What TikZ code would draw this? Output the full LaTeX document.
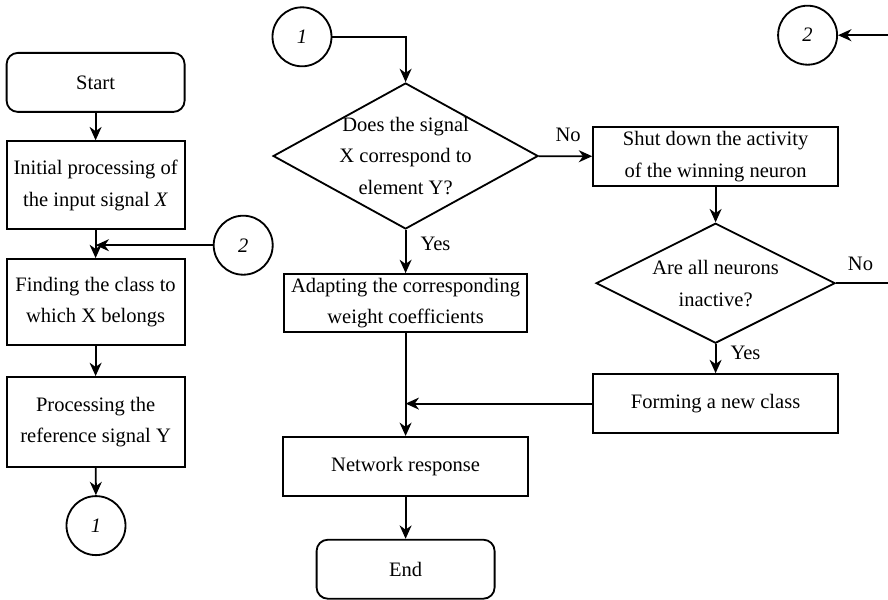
\documentclass[tikz,border=0pt]{standalone}
\usepackage{fontspec}
\setmainfont{Liberation Serif}
\usetikzlibrary{shapes.geometric, arrows.meta}

\begin{document}
\begin{tikzpicture}[
  every node/.style={font=\fontsize{14.6}{22.6}\selectfont},
  box/.style={draw, line width=1.3pt, minimum width=6.125cm,
              minimum height=1.475cm, align=center, inner sep=0pt},
  term/.style={box, rounded corners=8pt, minimum width=4.45cm},
  decision/.style={draw, line width=1.3pt, diamond, aspect=1.8,
              align=center, inner sep=-6pt},
  conn/.style={draw, line width=1.3pt, circle, minimum size=1.475cm,
              inner sep=0pt},
  flow/.style={line width=1.3pt, -{Stealth[length=9.5pt, width=8.5pt, inset=3pt]}},
  lbl/.style={inner sep=2pt},
]
\useasboundingbox (0,0) rectangle (22.2,-14.975);

% left column
\node[term] (start) at (2.39,-2.06) {Start};
\node[box, minimum width=4.45cm, minimum height=2.2cm] (init) at (2.39,-4.63)
  {Initial processing of\\the input signal \textit{X}};
\node[box, minimum width=4.45cm, minimum height=2.15cm] (find) at (2.39,-7.55)
  {Finding the class to\\which X belongs};
\node[box, minimum width=4.45cm, minimum height=2.25cm] (proc) at (2.39,-10.55)
  {Processing the\\reference signal Y};
\node[conn] (out1) at (2.4,-13.14) {\textit{1}};
\node[conn] (in2) at (6.08,-6.13) {\textit{2}};
\coordinate (join2) at (init.south |- in2.west);

% middle column
\node[conn] (in1) at (7.55,-0.92) {\textit{1}};
\node[decision, minimum width=6.625cm, minimum height=3.65cm] (match) at (10.14,-3.9)
  {Does the signal\\X correspond to\\element Y?};
\node[box, minimum width=6.075cm, minimum height=1.45cm] (adapt) at (10.14,-7.575)
  {Adapting the corresponding\\weight coefficients};
\node[box] (resp) at (10.14,-11.66) {Network response};
\node[term] (finish) at (10.14,-14.23) {End};

% right column
\node[box] (shut) at (17.89,-3.91) {Shut down the activity\\of the winning neuron};
\node[decision, aspect=2, minimum width=5.975cm, minimum height=3cm] (inact) at (17.89,-7.08)
  {Are all neurons\\inactive?};
\node[box] (newcls) at (17.89,-10.09) {Forming a new class};
\node[conn] (out2) at (20.19,-0.88) {\textit{2}};
\coordinate (joinr) at (adapt.south |- newcls.west);
\coordinate (back) at (22.6,-7.08);

\draw[flow] (start) -- (init);
\draw[flow] (init) -- (find);
\draw[flow] (in2) -- (join2);
\draw[flow] (find) -- (proc);
\draw[flow] (proc) -- (out1);

\draw[flow] (in1) -| (match);
\draw[flow] (match) -- node[lbl, above, pos=0.55, yshift=8pt] {No} (shut);
\draw[flow] (match) -- node[lbl, right, pos=0.33, xshift=8pt] {Yes} (adapt);
\draw[flow] (adapt) -- (resp);
\draw[flow] (resp) -- (finish);

\draw[flow] (shut) -- (inact);
\draw[flow] (inact) -- node[lbl, right, pos=0.3, xshift=8pt] {Yes} (newcls);
\draw[flow] (newcls) -- (joinr);
\draw[flow] (inact.east) -- node[lbl, above, pos=0.36, yshift=6pt] {No} (back) |- (out2.east);
\end{tikzpicture}
\end{document}
